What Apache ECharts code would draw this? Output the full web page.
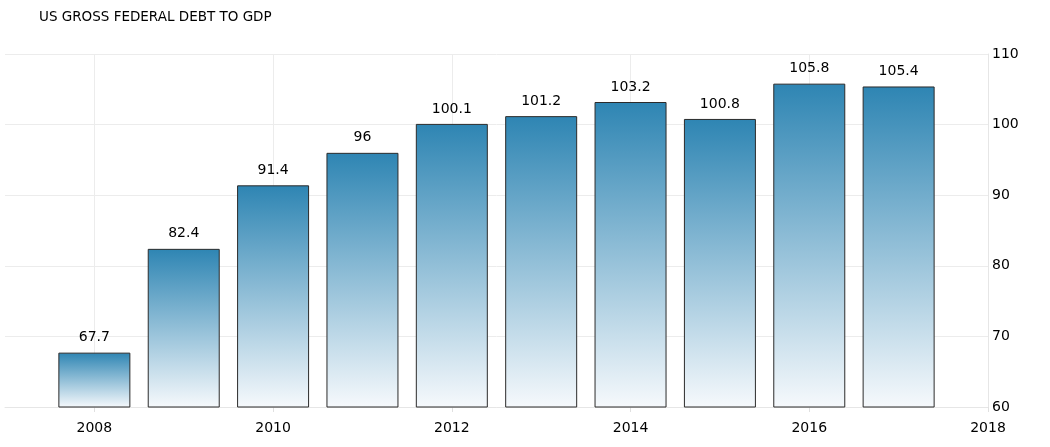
<!DOCTYPE html>
<html>
<head>
<meta charset="utf-8">
<script src="https://cdn.jsdelivr.net/npm/echarts@6/dist/echarts.min.js"></script>
<style>
html,body{margin:0;padding:0;background:#fff;}
#chart{width:1050px;height:447px;}
</style>
</head>
<body>
<div id="chart"></div>
<script>
var title = 'US GROSS FEDERAL DEBT TO GDP';
var categories = ['2007','2008','2009','2010','2011','2012','2013','2014','2015','2016','2017','2018'];
var values = [null, 67.7, 82.4, 91.4, 96, 100.1, 101.2, 103.2, 100.8, 105.8, 105.4, null];
var yTicks = {min: 60, max: 110, interval: 10};

var font = 'DejaVu Sans';
var chart = echarts.init(document.getElementById('chart'));
function evenIdx(i){ return i % 2 === 1; }
chart.setOption({
  animation: false,
  title: {
    text: title, left: 34, top: 5,
    textStyle: {fontFamily: font, fontSize: 13.5, fontWeight: 'normal', color: '#000'}
  },
  grid: {left: 5, right: 62, top: 54, bottom: 40},
  xAxis: {
    type: 'category',
    data: categories,
    boundaryGap: false,
    axisLine: {show: true, lineStyle: {color: '#e6e6e6'}},
    axisTick: {show: true, interval: function(i){return evenIdx(i);}, length: 5, lineStyle: {color: '#e0e0e0'}},
    axisLabel: {interval: function(i){return evenIdx(i);}, margin: 14, fontFamily: font, fontSize: 14, color: '#000'},
    splitLine: {show: true, interval: function(i){return evenIdx(i);}, lineStyle: {color: '#ececec'}}
  },
  yAxis: {
    type: 'value',
    position: 'right',
    min: yTicks.min, max: yTicks.max, interval: yTicks.interval,
    axisLine: {show: true, lineStyle: {color: '#e6e6e6'}},
    axisTick: {show: false},
    axisLabel: {margin: 4, fontFamily: font, fontSize: 14, color: '#000', verticalAlign: 'middle'},
    splitLine: {show: true, lineStyle: {color: '#ececec'}}
  },
  series: [{
    type: 'bar',
    data: values,
    barWidth: 72,
    itemStyle: {
      borderColor: '#2b2b2b',
      borderWidth: 1,
      color: new echarts.graphic.LinearGradient(0, 0, 0, 1, [
        {offset: 0, color: '#2e85b3'},
        {offset: 1, color: '#f6f9fc'}
      ])
    },
    label: {
      show: true, position: 'top', distance: 8,
      fontFamily: font, fontSize: 14, color: '#000'
    }
  }]
});
</script>
</body>
</html>
